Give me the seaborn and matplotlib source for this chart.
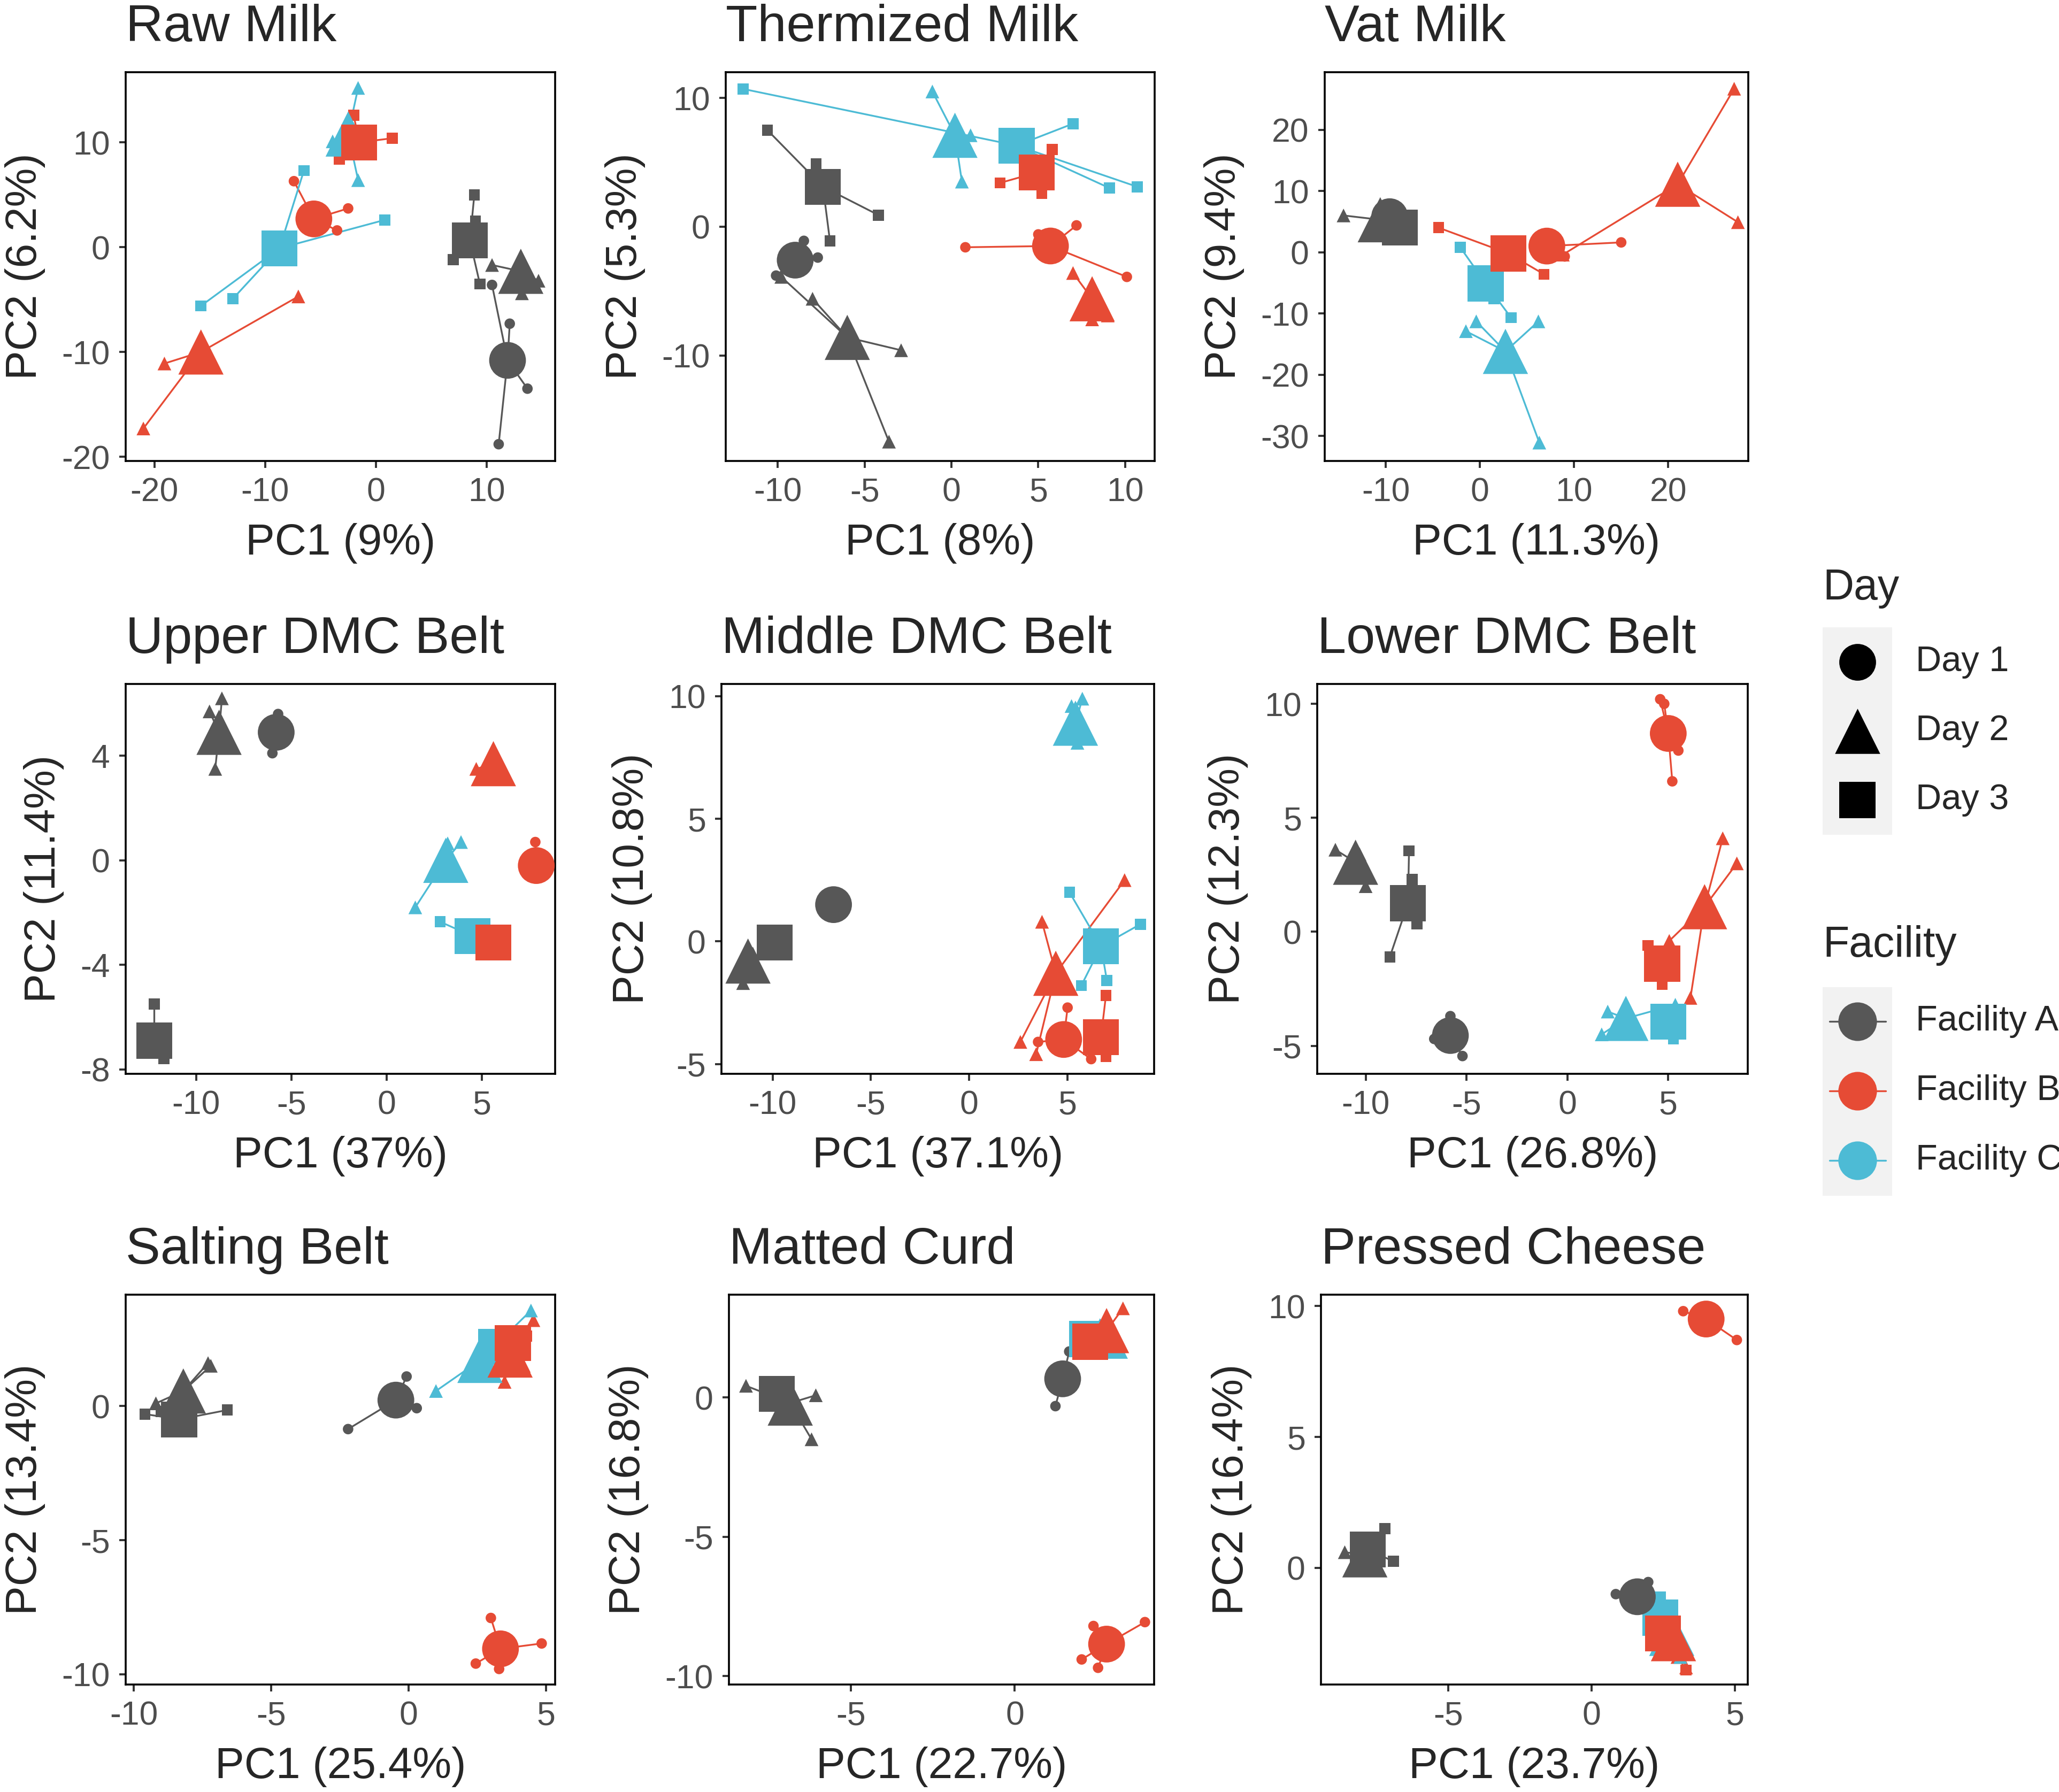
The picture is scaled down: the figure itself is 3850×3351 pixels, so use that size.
import matplotlib
matplotlib.use("Agg")
import matplotlib.pyplot as plt
import seaborn as sns
import pandas as pd
from matplotlib.patches import Rectangle

sns.set_style("ticks")
plt.rcParams['font.family'] = ['Liberation Sans', 'DejaVu Sans']
plt.rcParams['axes.unicode_minus'] = False

W, H = 3850, 3351

facility_colors = {"Facility A": "#575757", "Facility B": "#E64B35", "Facility C": "#4DBBD5"}
day_markers = {"Day 1": "o", "Day 2": "^", "Day 3": "s"}
big_sizes = {"Day 1": 2450, "Day 2": 3700, "Day 3": 2350}
small_sizes = {"Day 1": 200, "Day 2": 340, "Day 3": 220}

# group order used by every panel below
group_fac = ["Facility A"] * 3 + ["Facility B"] * 3 + ["Facility C"] * 2
group_day = ["Day 1", "Day 2", "Day 3", "Day 1", "Day 2", "Day 3", "Day 2", "Day 3"]

# ---- Raw Milk
raw_centers = [(11.9, -10.8), (13.1, -2.3), (8.5, 0.65), (-5.6, 2.7), (-15.8, -10.0),
               (-1.5, 10.0), (-2.5, 10.8), (-8.7, -0.1)]
raw_samples = [[(12.1, -7.3), (13.7, -13.5), (11.1, -18.8), (10.5, -3.6)],
               [(10.5, -1.7), (14.7, -3.2), (13.2, -4.4)],
               [(8.9, 5.0), (7.0, -1.2), (9.4, -3.5), (9.0, 2.5)],
               [(-7.4, 6.3), (-2.5, 3.7), (-3.5, 1.6)],
               [(-7.0, -4.7), (-19.1, -11.1), (-21.0, -17.3)],
               [(1.5, 10.4), (-3.3, 8.4), (-2.0, 12.6)],
               [(-1.6, 15.2), (-1.6, 6.4), (-3.9, 10.1)],
               [(-6.5, 7.3), (0.8, 2.6), (-15.8, -5.6), (-12.9, -4.9)]]

# ---- Thermized Milk
therm_centers = [(-9.0, -2.6), (-6.0, -8.6), (-7.4, 3.1), (5.7, -1.5), (8.1, -5.6),
                 (4.9, 4.2), (0.2, 7.1), (3.75, 6.3)]
therm_samples = [[(-8.5, -1.1), (-7.7, -2.4), (-10.1, -3.8)],
                 [(-8.0, -5.6), (-9.8, -3.9), (-2.9, -9.6), (-3.6, -16.7)],
                 [(-10.6, 7.5), (-4.2, 0.9), (-7.0, -1.1), (-7.8, 4.9)],
                 [(0.8, -1.6), (7.2, 0.1), (10.1, -3.9), (5.0, -0.6)],
                 [(7.0, -3.6), (8.1, -7.2), (9.0, -6.9)],
                 [(2.8, 3.4), (5.8, 6.0), (5.2, 2.6)],
                 [(-1.1, 10.5), (0.6, 3.5), (1.1, 7.1)],
                 [(-12.0, 10.7), (7.0, 8.0), (9.1, 3.0), (10.7, 3.1)]]

# ---- Vat Milk
vat_centers = [(-9.6, 5.8), (-10.6, 5.3), (-8.5, 4.0), (7.1, 1.0), (21.0, 11.1),
               (3.0, -0.2), (2.7, -16.2), (0.6, -5.1)]
vat_samples = [[(-9.0, 6.5), (-10.2, 5.0), (-9.5, 5.9)],
               [(-14.5, 6.0), (-10.0, 6.5), (-9.5, 4.5)],
               [(-8.0, 3.0), (-8.5, 5.0), (-7.5, 3.5)],
               [(15.0, 1.6), (9.0, -0.7), (6.5, 1.5)],
               [(27.0, 26.7), (27.4, 4.9), (8.8, -0.4)],
               [(-4.4, 4.0), (6.8, -3.6), (4.0, 0.0)],
               [(-0.4, -11.3), (-1.5, -12.9), (6.2, -11.3), (6.3, -31.1)],
               [(-2.1, 0.8), (3.3, -10.7), (1.5, -7.6)]]

# ---- Upper DMC Belt
upper_centers = [(-5.8, 4.9), (-8.8, 4.9), (-12.2, -6.9), (7.85, -0.2), (5.6, 3.7),
                 (5.6, -3.15), (3.1, 0.0), (4.5, -2.9)]
upper_samples = [[(-5.7, 5.6), (-6.0, 4.1), (-5.5, 5.0)],
                 [(-8.65, 6.2), (-9.0, 3.5), (-9.3, 5.7), (-8.3, 4.4)],
                 [(-12.2, -5.5), (-11.7, -7.6), (-12.5, -7.2)],
                 [(7.8, 0.7), (7.9, -0.6), (7.6, -0.3)],
                 [(4.7, 3.5), (5.8, 3.9), (5.2, 3.6)],
                 [(5.3, -3.0), (5.9, -3.4), (5.5, -2.9)],
                 [(1.5, -1.8), (3.9, 0.7), (3.2, 0.65)],
                 [(2.8, -2.35), (4.6, -3.2), (4.3, -3.0)]]

# ---- Middle DMC Belt
middle_centers = [(-6.9, 1.5), (-11.25, -0.8), (-9.9, -0.05), (4.8, -4.0), (4.4, -1.3),
                  (6.7, -3.9), (5.4, 8.9), (6.7, -0.2)]
middle_samples = [[(-6.8, 1.6), (-7.0, 1.3), (-6.9, 1.7)],
                  [(-11.5, -1.7), (-11.0, -0.5), (-11.2, -0.3)],
                  [(-10.2, 0.2), (-9.7, -0.3), (-9.8, 0.1)],
                  [(5.0, -2.7), (3.5, -4.1), (6.2, -4.8)],
                  [(3.7, 0.8), (7.9, 2.5), (2.6, -4.1), (3.4, -4.6)],
                  [(6.95, -2.2), (6.95, -4.7), (6.5, -3.8)],
                  [(5.75, 9.9), (5.5, 8.1), (5.2, 9.6)],
                  [(5.1, 2.0), (8.7, 0.7), (7.0, -1.6), (5.7, -1.8)]]

# ---- Lower DMC Belt
lower_centers = [(-5.8, -4.55), (-10.5, 3.05), (-7.9, 1.25), (5.0, 8.7), (6.8, 1.1),
                 (4.7, -1.4), (2.9, -3.8), (5.0, -3.95)]
lower_samples = [[(-5.8, -3.7), (-6.6, -4.7), (-5.2, -5.45)],
                 [(-11.5, 3.6), (-10.0, 2.0), (-10.3, 3.4)],
                 [(-7.85, 3.55), (-8.8, -1.1), (-7.45, 0.35), (-7.7, 2.3)],
                 [(4.6, 10.2), (5.2, 6.6), (5.5, 7.95), (4.8, 10.0)],
                 [(7.7, 4.1), (8.4, 3.0), (6.1, -2.9), (5.05, -0.4)],
                 [(4.0, -0.6), (4.7, -2.3), (5.0, -1.2)],
                 [(2.0, -3.5), (1.7, -4.5), (5.35, -3.2)],
                 [(5.26, -4.7), (5.2, -3.5), (4.8, -3.8)]]

# ---- Salting Belt
salting_centers = [(-0.46, 0.22), (-8.2, 0.56), (-8.35, -0.5), (3.35, -9.05), (3.7, 1.9),
                   (3.8, 2.35), (2.6, 1.7), (3.2, 2.2)]
salting_samples = [[(-2.2, -0.86), (-0.07, 1.1), (0.3, -0.08)],
                   [(-7.3, 1.6), (-7.2, 1.5), (-9.2, 0.1)],
                   [(-9.6, -0.3), (-6.6, -0.15), (-9.0, -0.2)],
                   [(3.0, -7.9), (4.85, -8.85), (2.45, -9.6), (3.3, -9.8)],
                   [(3.5, 0.9), (4.55, 3.2), (4.2, 1.5)],
                   [(4.0, 2.8), (3.6, 2.0), (4.3, 2.6)],
                   [(1.0, 0.56), (4.46, 3.56), (2.8, 2.2)],
                   [(3.0, 2.5), (3.5, 1.5), (3.4, 2.8)]]

# ---- Matted Curd
matted_centers = [(1.46, 0.67), (-6.85, -0.2), (-7.26, 0.13), (2.8, -8.85), (2.8, 2.4),
                  (2.3, 2.0), (2.76, 2.2), (2.2, 2.1)]
matted_samples = [[(1.24, -0.31), (1.66, 1.65), (1.5, 0.5)],
                  [(-8.2, 0.42), (-6.07, 0.08), (-6.2, -1.5)],
                  [(-7.0, 0.5), (-7.5, -0.1), (-7.2, 0.3)],
                  [(3.97, -8.06), (2.04, -9.4), (2.54, -9.7), (2.4, -8.2)],
                  [(3.3, 3.2), (2.6, 2.0), (2.9, 1.8)],
                  [(2.1, 1.8), (2.5, 2.3), (2.2, 2.1)],
                  [(3.0, 1.8), (2.6, 2.6), (2.7, 2.1)],
                  [(2.0, 2.2), (2.4, 2.0), (2.3, 2.4)]]

# ---- Pressed Cheese
pressed_centers = [(1.6, -1.1), (-7.9, 0.5), (-7.8, 0.7), (4.0, 9.5), (2.86, -2.7),
                   (2.5, -2.5), (2.8, -2.5), (2.4, -1.9)]
pressed_samples = [[(0.85, -1.0), (1.98, -0.54), (1.7, -1.4)],
                   [(-8.6, 0.6), (-7.5, 0.3), (-8.0, 0.8)],
                   [(-7.2, 1.5), (-6.9, 0.25), (-7.8, 0.5)],
                   [(3.2, 9.8), (5.07, 8.7), (3.9, 9.6)],
                   [(3.3, -3.8), (3.0, -3.4), (2.7, -2.3)],
                   [(3.3, -3.9), (2.4, -2.2), (2.2, -2.4)],
                   [(3.1, -3.4), (2.8, -2.3), (2.6, -2.2)],
                   [(2.4, -1.1), (2.2, -2.0), (2.9, -2.6)]]

titles = ["Raw Milk", "Thermized Milk", "Vat Milk", "Upper DMC Belt", "Middle DMC Belt",
          "Lower DMC Belt", "Salting Belt", "Matted Curd", "Pressed Cheese"]
xlabels = ["PC1 (9%)", "PC1 (8%)", "PC1 (11.3%)", "PC1 (37%)", "PC1 (37.1%)",
           "PC1 (26.8%)", "PC1 (25.4%)", "PC1 (22.7%)", "PC1 (23.7%)"]
ylabels = ["PC2 (6.2%)", "PC2 (5.3%)", "PC2 (9.4%)", "PC2 (11.4%)", "PC2 (10.8%)",
           "PC2 (12.3%)", "PC2 (13.4%)", "PC2 (16.8%)", "PC2 (16.4%)"]
all_centers = [raw_centers, therm_centers, vat_centers, upper_centers, middle_centers,
               lower_centers, salting_centers, matted_centers, pressed_centers]
all_samples = [raw_samples, therm_samples, vat_samples, upper_samples, middle_samples,
               lower_samples, salting_samples, matted_samples, pressed_samples]

xlims = [(-22.6, 16.2), (-13.0, 11.7), (-16.5, 28.5), (-13.7, 8.84), (-12.6, 9.4),
         (-12.4, 8.94), (-10.3, 5.34), (-8.72, 4.25), (-9.43, 5.45)]
ylims = [(-20.4, 16.7), (-18.2, 12.0), (-34.1, 29.4), (-8.17, 6.75), (-5.4, 10.5),
         (-6.23, 10.87), (-10.38, 4.15), (-10.3, 3.69), (-4.45, 10.43)]
xticks = [[-20, -10, 0, 10], [-10, -5, 0, 5, 10], [-10, 0, 10, 20], [-10, -5, 0, 5],
          [-10, -5, 0, 5], [-10, -5, 0, 5], [-10, -5, 0, 5], [-5, 0], [-5, 0, 5]]
yticks = [[-20, -10, 0, 10], [-10, 0, 10], [-30, -20, -10, 0, 10, 20], [-8, -4, 0, 4],
          [-5, 0, 5, 10], [-5, 0, 5, 10], [-10, -5, 0], [-10, -5, 0], [0, 5, 10]]

# panel boxes in pixels (left, right, top, bottom)
lefts = [235, 1357, 2477, 235, 1349, 2463, 235, 1363, 2470]
rights = [1038, 2159, 3269, 1038, 2158, 3268, 1038, 2158, 3268]
tops = [135, 1279, 2421]
bottoms = [862, 2008, 3150]

# long tables: one row per sample, one row per centre
cen_rows, smp_rows = [], []
for p, title in enumerate(titles):
    for g in range(len(group_fac)):
        cx, cy = all_centers[p][g]
        cen_rows.append(dict(panel=title, facility=group_fac[g], day=group_day[g], x=cx, y=cy, g=g))
        for sx, sy in all_samples[p][g]:
            smp_rows.append(dict(panel=title, facility=group_fac[g], day=group_day[g],
                                 x=sx, y=sy, cx=cx, cy=cy))
centers = pd.DataFrame(cen_rows)
samples = pd.DataFrame(smp_rows)

# drawing order of the centres: facility C first, then B, then A; day 3 first
draw_order = [7, 6, 5, 4, 3, 2, 1, 0]

fig = plt.figure(figsize=(W / 100, H / 100), dpi=100)

for p, title in enumerate(titles):
    r = p // 3
    l, rt, t, b = lefts[p], rights[p], tops[r], bottoms[r]
    ax = fig.add_axes([l / W, 1 - b / H, (rt - l) / W, (b - t) / H])
    smp = samples[samples.panel == title]
    cen = centers[centers.panel == title].set_index("g").loc[draw_order].reset_index()

    for _, s in smp.iterrows():
        ax.plot([s.cx, s.x], [s.cy, s.y], color=facility_colors[s.facility], lw=2.4, zorder=1)
    sns.scatterplot(data=smp, x="x", y="y", hue="facility", style="day", size="day",
                    palette=facility_colors, markers=day_markers, sizes=small_sizes,
                    linewidth=0, legend=False, ax=ax, zorder=2)
    sns.scatterplot(data=cen, x="x", y="y", hue="facility", style="day", size="day",
                    palette=facility_colors, markers=day_markers, sizes=big_sizes,
                    linewidth=0, legend=False, ax=ax, zorder=3)

    ax.set_xlim(*xlims[p])
    ax.set_ylim(*ylims[p])
    ax.set_xticks(xticks[p])
    ax.set_yticks(yticks[p])
    ax.tick_params(length=9, width=2.8, color="#333333", labelcolor="#4D4D4D",
                   labelsize=45, pad=12)
    for sp in ax.spines.values():
        sp.set_visible(True)
        sp.set_color("black")
        sp.set_linewidth(2.6)
    ax.set_xlabel(xlabels[p], fontsize=59, labelpad=20)
    ax.set_ylabel(ylabels[p], fontsize=59, labelpad=22)
    ax.set_title(title, loc="left", fontsize=70, pad=42)

# legend drawn in pixel coordinates on the right
lax = fig.add_axes([3380 / W, 1 - 2300 / H, 470 / W, 1300 / H])
lax.set_xlim(3380, 3850)
lax.set_ylim(2300, 1000)
lax.axis("off")
lax.text(3408, 1100, "Day", fontsize=58, va="center", ha="left")
lax.add_patch(Rectangle((3408, 1173), 130, 388, color="#F2F2F2", lw=0))
for y, d in zip([1238, 1367, 1496], ["Day 1", "Day 2", "Day 3"]):
    lax.scatter([3473], [y], marker=day_markers[d], s=big_sizes[d], color="black", lw=0)
    lax.text(3582, y, d, fontsize=48, va="center", ha="left")
lax.text(3408, 1768, "Facility", fontsize=58, va="center", ha="left")
lax.add_patch(Rectangle((3408, 1846), 130, 390, color="#F2F2F2", lw=0))
for y, f in zip([1910, 2040, 2170], ["Facility A", "Facility B", "Facility C"]):
    lax.plot([3421, 3526], [y, y], color=facility_colors[f], lw=2.4)
    lax.scatter([3473], [y], marker="o", s=2700, color=facility_colors[f], lw=0, zorder=3)
    lax.text(3582, y, f, fontsize=48, va="center", ha="left")

fig.savefig("out.png", dpi=100)
